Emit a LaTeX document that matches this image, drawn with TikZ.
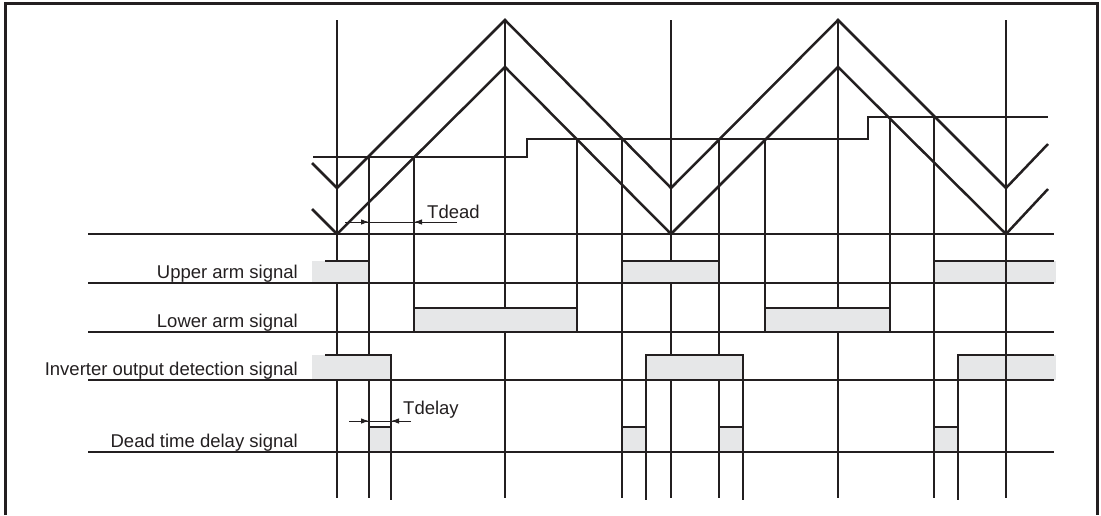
\documentclass[tikz,border=0pt]{standalone}
\usepackage{fontspec}
\setmainfont{Liberation Sans}
\usepackage{tikz}
\usetikzlibrary{arrows.meta}

\definecolor{ink}{HTML}{231F20}
\definecolor{pulsegray}{HTML}{E6E7E8}

\begin{document}
\begin{tikzpicture}[x=1pt, y=-1pt,
    thickline/.style={ink, line width=2.5pt},
    thinline/.style={ink, line width=1.1pt},
    pulseedge/.style={ink, line width=1.8pt},
    lbl/.style={font=\fontsize{18.5}{22}\selectfont, inner sep=0pt, text=ink},
    dimtip/.style={ink, line width=0.9pt, -{Latex[length=8pt, width=5.5pt]}}]
    \useasboundingbox (0,0) rectangle (1101,515);

    % Frame
    \draw[ink, line width=3pt] (5,515) -- (5,3) -- (1097,3) -- (1097,515);

    % Vertical time marks
    \draw[thickline] (337,20) -- (337,498);
    \foreach \x/\ya/\yb in {369/157/498, 391/355/500, 414/157/308, 505/20/498,
                            577/139/308, 622/139/498, 646/355/500, 671/20/498,
                            719/139/498, 743/355/500, 765/139/308, 838/20/498,
                            890/117/308, 934/117/498, 958/355/500}
        \draw[thinline] (\x,\ya) -- (\x,\yb);

    % Pulses (fill)
    \fill[pulsegray] (312,261) rectangle (369,283);
    \foreach \a/\b in {622/719} \fill[pulsegray] (\a,261) rectangle (\b,283);
    \fill[pulsegray] (934,261) rectangle (1056,283);
    \foreach \a/\b in {414/577, 765/890} \fill[pulsegray] (\a,308) rectangle (\b,332);
    \fill[pulsegray] (312,355) rectangle (391,380);
    \foreach \a/\b in {646/743} \fill[pulsegray] (\a,355) rectangle (\b,380);
    \fill[pulsegray] (958,355) rectangle (1056,380);
    \foreach \a/\b in {369/391, 622/646, 719/743, 934/958} \fill[pulsegray] (\a,427) rectangle (\b,452);
    \draw[thinline] (1006,20) -- (1006,498);

    % Pulses (edges)
    \draw[pulseedge] (325,261) -- (369,261) -- (369,283);
    \draw[pulseedge] (622,283) -- (622,261) -- (719,261) -- (719,283);
    \draw[pulseedge] (934,283) -- (934,261) -- (1054,261);
    \foreach \a/\b in {414/577, 765/890}
        \draw[pulseedge] (\a,332) -- (\a,308) -- (\b,308) -- (\b,332);
    \draw[pulseedge] (325,355) -- (391,355) -- (391,380);
    \draw[pulseedge] (646,380) -- (646,355) -- (743,355) -- (743,380);
    \draw[pulseedge] (958,380) -- (958,355) -- (1054,355);
    \foreach \a/\b in {369/391, 622/646, 719/743, 934/958}
        \draw[pulseedge] (\a,452) -- (\a,427) -- (\b,427) -- (\b,452);

    % Baselines
    \foreach \y in {234, 283, 332, 380, 452}
        \draw[thickline] (88,\y) -- (1054,\y);

    % Carriers and reference
    \draw[thickline] (312,163) -- (337,188) -- (505,20) -- (671,188) -- (838,20) -- (1006,188) -- (1048,144);
    \draw[thickline] (312,209) -- (337,234) -- (505,67) -- (671,234) -- (838,67) -- (1006,234) -- (1048,189);
    \draw[thickline] (313,157) -- (527,157) -- (527,139) -- (868,139) -- (868,117) -- (1048,117);

    % Signal names
    \node[lbl, anchor=base east] (upper) at (298,278) {Upper arm signal};
    \node[lbl, anchor=base east] (lower) at (298,327) {Lower arm signal};
    \node[lbl, anchor=base east] (inv) at (298,375) {Inverter output detection signal};
    \node[lbl, anchor=base east] (dtd) at (298,447) {Dead time delay signal};

    % Tdead
    \draw[ink, line width=0.9pt] (345,222) -- (457,222);
    \draw[dimtip] (345,222) -- (369,222);
    \draw[dimtip] (457,222) -- (414,222);
    \node[lbl, anchor=base west] (tdead) at (427,218) {Tdead};

    % Tdelay
    \draw[ink, line width=0.9pt] (349,421) -- (411,421);
    \draw[dimtip] (349,421) -- (369,421);
    \draw[dimtip] (411,421) -- (391,421);
    \node[lbl, anchor=base west] (tdelay) at (403,414) {Tdelay};

\end{tikzpicture}
\end{document}
